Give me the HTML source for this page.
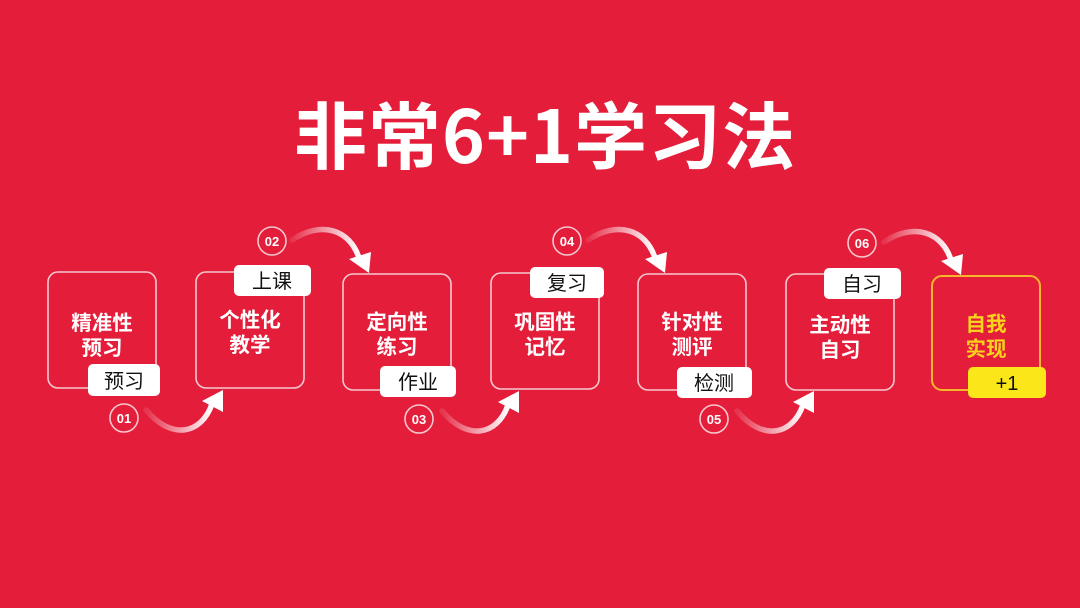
<!DOCTYPE html>
<html><head><meta charset="utf-8"><style>
html,body{margin:0;padding:0;background:#e31d3a;}
svg{display:block}
text{font-family:"Liberation Sans","Noto Sans CJK SC",sans-serif}
.t{font-family:"Noto Sans CJK SC",sans-serif;font-weight:700;fill:#fff}
.g{font-family:"Noto Sans CJK SC",sans-serif;font-weight:400;fill:#111;font-size:20px}
</style></head><body>
<svg width="1080" height="608" viewBox="0 0 1080 608" xmlns="http://www.w3.org/2000/svg">
<defs>
<linearGradient id="ga" x1="0" y1="0" x2="1" y2="0"><stop offset="0" stop-color="#fff" stop-opacity="0.1"/><stop offset="1" stop-color="#fff" stop-opacity="1"/></linearGradient>
<g id="ab"><path d="M0,0 C25,30 55,25 66,-6" fill="none" stroke="url(#ga)" stroke-width="5.5" stroke-linecap="round"/><polygon points="77,-20 56,-9 77,2" fill="#fff"/></g>
<g id="at"><path d="M0,0 C30,-20 58,-10 67,18" fill="none" stroke="url(#ga)" stroke-width="5.5" stroke-linecap="round"/><polygon points="77,33 57,19 79,12" fill="#fff"/></g>
</defs>
<rect width="1080" height="608" fill="#e31d3a"/>
<text x="545" y="163" text-anchor="middle" class="t" font-size="73" letter-spacing="1">非常6+1学习法</text>

<g fill="none" stroke="#f6c8cf" stroke-width="1.6">
<rect x="48" y="272" width="108" height="116" rx="10"/>
<rect x="196" y="272" width="108" height="116" rx="10"/>
<rect x="343" y="274" width="108" height="116" rx="10"/>
<rect x="491" y="273" width="108" height="116" rx="10"/>
<rect x="638" y="274" width="108" height="116" rx="10"/>
<rect x="786" y="274" width="108" height="116" rx="10"/>
</g>
<rect x="932" y="276" width="108" height="114" rx="10" fill="none" stroke="#f7b52a" stroke-width="2"/>

<g class="t" font-size="20.5" text-anchor="middle">
<text x="102" y="330">精准性</text><text x="102" y="355">预习</text>
<text x="250" y="327">个性化</text><text x="250" y="352">教学</text>
<text x="397" y="329">定向性</text><text x="397" y="354">练习</text>
<text x="545" y="329">巩固性</text><text x="545" y="354">记忆</text>
<text x="692" y="329">针对性</text><text x="692" y="354">测评</text>
<text x="840" y="332">主动性</text><text x="840" y="357">自习</text>
</g>
<g font-family="Noto Sans CJK SC,sans-serif" font-weight="700" font-size="20.5" fill="#f8d21c" text-anchor="middle">
<text x="986" y="331">自我</text><text x="986" y="356">实现</text>
</g>

<g fill="#fff">
<rect x="88" y="364" width="72" height="32" rx="5"/>
<rect x="234" y="265" width="77" height="31" rx="5"/>
<rect x="380" y="366" width="76" height="31" rx="5"/>
<rect x="530" y="267" width="74" height="31" rx="5"/>
<rect x="677" y="367" width="75" height="31" rx="5"/>
<rect x="824" y="268" width="77" height="31" rx="5"/>
</g>
<rect x="968" y="367" width="78" height="31" rx="5" fill="#fbe61a"/>
<g class="g" text-anchor="middle">
<text x="124" y="388">预习</text>
<text x="272" y="288">上课</text>
<text x="418" y="389">作业</text>
<text x="567" y="290">复习</text>
<text x="714" y="390">检测</text>
<text x="862" y="291">自习</text>
<text x="1007" y="390" font-family="Liberation Sans,sans-serif">+1</text>
</g>

<g fill="none" stroke="#f6c8cf" stroke-width="1.6">
<circle cx="124" cy="418" r="14"/><circle cx="272" cy="241" r="14"/>
<circle cx="419" cy="419" r="14"/><circle cx="567" cy="241" r="14"/>
<circle cx="714" cy="419" r="14"/><circle cx="862" cy="243" r="14"/>
</g>
<g fill="#fff" font-family="Liberation Sans,sans-serif" font-weight="700" font-size="13" text-anchor="middle">
<text x="124" y="423">01</text><text x="272" y="246">02</text>
<text x="419" y="424">03</text><text x="567" y="246">04</text>
<text x="714" y="424">05</text><text x="862" y="248">06</text>
</g>

<use href="#ab" x="146" y="410"/>
<use href="#ab" x="442" y="411"/>
<use href="#ab" x="737" y="411"/>
<use href="#at" x="292" y="240"/>
<use href="#at" x="588" y="240"/>
<use href="#at" x="884" y="242"/>
</svg>
</body></html>
